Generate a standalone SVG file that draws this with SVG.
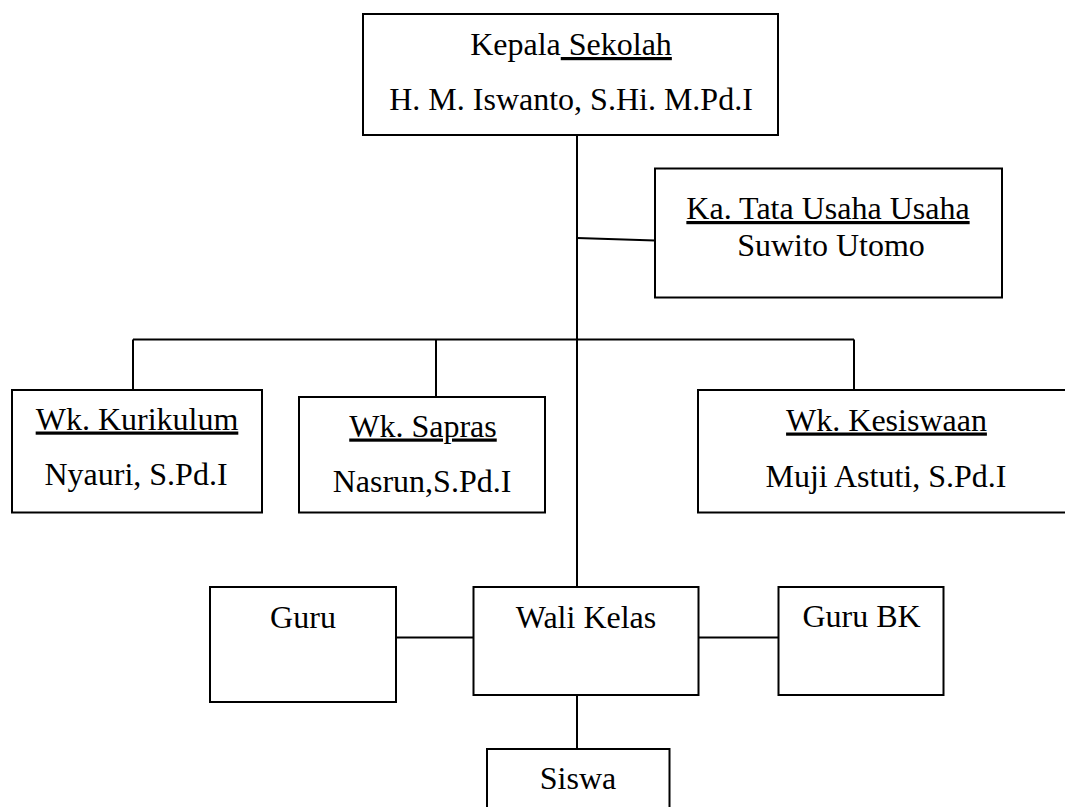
<svg xmlns="http://www.w3.org/2000/svg" width="1065" height="807" viewBox="0 0 1065 807">
<style>
.box{fill:#fff;stroke:#000;stroke-width:2}
.ln{fill:none;stroke:#000;stroke-width:2}
text{font-family:"Liberation Serif","Times New Roman",serif;font-size:32px;fill:#000;text-anchor:middle}
.u{text-decoration:underline}
</style>
<rect width="1065" height="807" fill="#fff"/>
<g id="connectors">
<line class="ln" x1="577" y1="135" x2="577" y2="587"/>
<line class="ln" x1="577" y1="238" x2="655" y2="240.5"/>
<line class="ln" x1="133" y1="339.5" x2="854" y2="339.5"/>
<line class="ln" x1="133" y1="339.5" x2="133" y2="390"/>
<line class="ln" x1="436" y1="339.5" x2="436" y2="397"/>
<line class="ln" x1="854" y1="339.5" x2="854" y2="390"/>
<line class="ln" x1="396" y1="637.5" x2="473.5" y2="637.5"/>
<line class="ln" x1="698.5" y1="637.5" x2="778.5" y2="637.5"/>
<line class="ln" x1="577" y1="695" x2="577" y2="749"/>
</g>
<g id="kepala">
<rect class="box" x="363" y="14" width="415" height="121"/>
<text x="571" y="55">Kepala<tspan class="u"> Sekolah</tspan></text>
<text x="571" y="110">H. M. Iswanto, S.Hi. M.Pd.I</text>
</g>
<g id="tatausaha">
<rect class="box" x="655" y="168.5" width="347" height="129"/>
<text x="828" y="219" class="u">Ka. Tata Usaha Usaha</text>
<text x="831" y="256">Suwito Utomo</text>
</g>
<g id="kurikulum">
<rect class="box" x="12" y="390" width="250" height="122.5"/>
<text x="137" y="429.5" class="u">Wk. Kurikulum</text>
<text x="136" y="485">Nyauri, S.Pd.I</text>
</g>
<g id="sapras">
<rect class="box" x="299" y="397" width="246" height="115.5"/>
<text x="423" y="436.5" class="u">Wk. Sapras</text>
<text x="422" y="491.5">Nasrun,S.Pd.I</text>
</g>
<g id="kesiswaan">
<rect class="box" x="698" y="390" width="378" height="122.5"/>
<text x="886.5" y="430.5" class="u">Wk. Kesiswaan</text>
<text x="886" y="486.5">Muji Astuti, S.Pd.I</text>
</g>
<g id="guru">
<rect class="box" x="210" y="587" width="186" height="115"/>
<text x="303" y="628">Guru</text>
</g>
<g id="walikelas">
<rect class="box" x="473.5" y="587" width="225" height="108"/>
<text x="586" y="628">Wali Kelas</text>
</g>
<g id="gurubk">
<rect class="box" x="778.5" y="587" width="165" height="108"/>
<text x="861.5" y="626.5">Guru BK</text>
</g>
<g id="siswa">
<rect class="box" x="487" y="749" width="182.5" height="70"/>
<text x="578" y="789">Siswa</text>
</g>
</svg>
